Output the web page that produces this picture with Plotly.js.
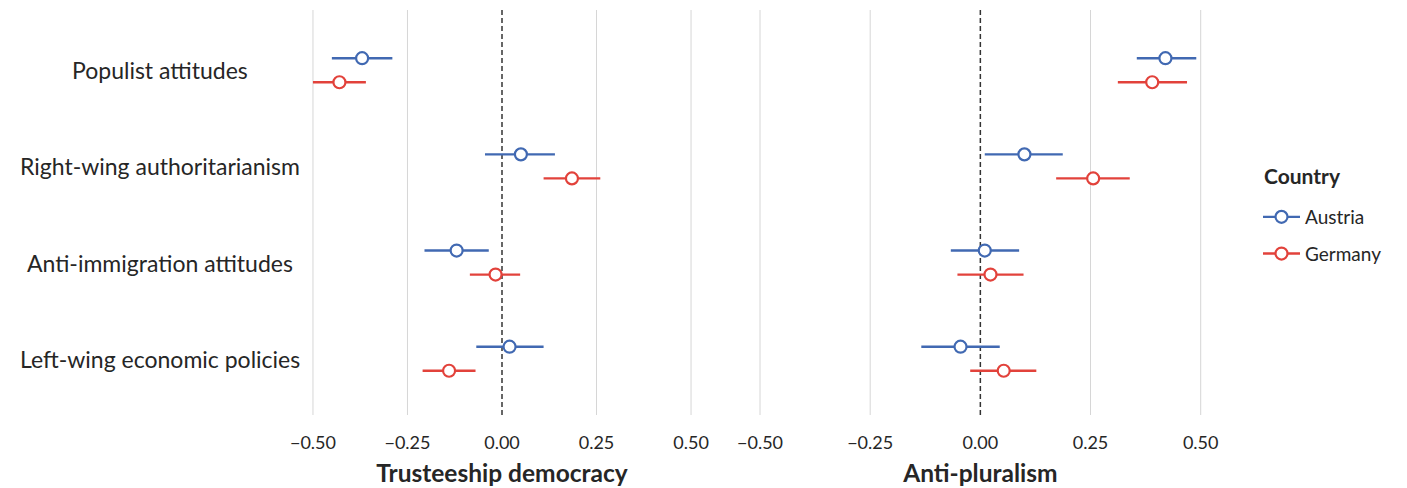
<!DOCTYPE html>
<html>
<head>
<meta charset="utf-8">
<script src="https://cdn.plot.ly/plotly-3.0.1.min.js"></script>
<style>html,body{margin:0;padding:0;background:#fff;}#chart{width:1407px;height:488px;}</style>
</head>
<body>
<div id="chart"></div>
<script>
// ---- data ----
var categories = ['Populist attitudes', 'Right-wing authoritarianism', 'Anti-immigration attitudes', 'Left-wing economic policies'];
var countries = ['Austria', 'Germany'];
var legendTitle = 'Country';
var tickValues = [-0.5, -0.25, 0, 0.25, 0.5];
var tickLabels = ['\u22120.50', '\u22120.25', '0.00', '0.25', '0.50'];

// Trusteeship democracy
var trustAustria   = [-0.37, 0.05, -0.12, 0.02];
var trustAustriaLo = [-0.45, -0.045, -0.205, -0.068];
var trustAustriaHi = [-0.29, 0.14, -0.035, 0.11];
var trustGermany   = [-0.43, 0.185, -0.017, -0.14];
var trustGermanyLo = [-0.50, 0.11, -0.085, -0.21];
var trustGermanyHi = [-0.36, 0.26, 0.048, -0.07];

// Anti-pluralism
var antiAustria   = [0.42, 0.10, 0.01, -0.045];
var antiAustriaLo = [0.355, 0.01, -0.067, -0.134];
var antiAustriaHi = [0.49, 0.187, 0.088, 0.044];
var antiGermany   = [0.39, 0.256, 0.023, 0.053];
var antiGermanyLo = [0.312, 0.172, -0.052, -0.023];
var antiGermanyHi = [0.469, 0.339, 0.098, 0.127];

// ---- styling ----
var colors = {Austria: '#4169b2', Germany: '#e2423b'};
var dodge = {Austria: -0.125, Germany: 0.125};
var FONT = 'Lato, "Open Sans", sans-serif';
var TXT = '#262626';

function ypos(country) {
  return categories.map(function (c, i) { return i + dodge[country]; });
}
function trace(country, est, lo, hi, xa) {
  return {
    type: 'scatter', mode: 'markers', xaxis: xa, yaxis: 'y',
    x: est, y: ypos(country), text: categories,
    showlegend: false, hoverinfo: 'x+text',
    marker: {symbol: 'circle', size: 12, color: '#ffffff', line: {color: colors[country], width: 2.2}},
    error_x: {
      type: 'data', symmetric: false,
      array: est.map(function (v, i) { return hi[i] - v; }),
      arrayminus: est.map(function (v, i) { return v - lo[i]; }),
      color: colors[country], thickness: 2.4, width: 0
    }
  };
}
function legendTrace(country) {
  return {
    type: 'scatter', mode: 'lines+markers', x: [null], y: [null],
    name: country, legendgroup: country, showlegend: true,
    line: {color: colors[country], width: 2.4},
    marker: {symbol: 'circle', size: 12, color: '#ffffff', line: {color: colors[country], width: 2.2}}
  };
}

var data = [
  trace('Austria', trustAustria, trustAustriaLo, trustAustriaHi, 'x'),
  trace('Germany', trustGermany, trustGermanyLo, trustGermanyHi, 'x'),
  trace('Austria', antiAustria, antiAustriaLo, antiAustriaHi, 'x2'),
  trace('Germany', antiGermany, antiGermanyLo, antiGermanyHi, 'x2'),
  legendTrace(countries[0]),
  legendTrace(countries[1])
];

function xaxisDef(domain, title) {
  return {
    domain: domain, range: [-0.52, 0.52], anchor: 'y',
    tickvals: tickValues, ticktext: tickLabels,
    showgrid: false,
    zeroline: false, showline: false, ticks: '',
    ticklabelstandoff: 15,
    tickfont: {family: FONT, size: 18, color: TXT},
    title: {text: title, font: {family: FONT, size: 24.5, color: TXT, weight: 'bold'}, standoff: 12},
    fixedrange: true
  };
}

var annotations = categories.map(function (c, i) {
  return {
    text: c, xref: 'paper', yref: 'y', x: 160 / 1407, y: i,
    xanchor: 'center', yanchor: 'middle', showarrow: false,
    font: {family: FONT, size: 23, color: TXT}
  };
});
annotations.push({
  text: legendTitle, xref: 'paper', yref: 'paper', x: 1262 / 1407, y: (488 - 176) / 488,
  xanchor: 'left', yanchor: 'middle', showarrow: false,
  font: {family: FONT, size: 21, color: TXT, weight: 'bold'}
});

// vertical gridlines at the tick values (solid) and a dashed reference line at zero
var shapes = [];
['x', 'x2'].forEach(function (xa) {
  tickValues.forEach(function (v) {
    shapes.push({
      type: 'line', xref: xa, yref: 'y domain', x0: v, x1: v, y0: 0, y1: 1,
      line: v === 0 ? {color: '#333333', width: 1.5, dash: '5px,3px'} : {color: '#d6d6d6', width: 1},
      layer: 'below'
    });
  });
});

var layout = {
  width: 1407, height: 488,
  margin: {l: 0, r: 0, t: 0, b: 0},
  paper_bgcolor: '#ffffff', plot_bgcolor: 'rgba(0,0,0,0)',
  font: {family: FONT, color: TXT},
  xaxis: xaxisDef([305.4 / 1407, 698.6 / 1407], 'Trusteeship democracy'),
  xaxis2: xaxisDef([751.2 / 1407, 1209.5 / 1407], 'Anti-pluralism'),
  yaxis: {
    domain: [(488 - 415) / 488, (488 - 10) / 488],
    range: [3.585, -0.626],
    showgrid: false, zeroline: false, showline: false,
    showticklabels: false, ticks: '', fixedrange: true
  },
  annotations: annotations,
  shapes: shapes,
  showlegend: true,
  legend: {
    x: 1258 / 1407, xanchor: 'left', y: (488 - 198) / 488, yanchor: 'top',
    font: {family: FONT, size: 19, color: TXT},
    traceorder: 'grouped', tracegroupgap: 9,
    bgcolor: 'rgba(0,0,0,0)', itemwidth: 37
  }
};

Plotly.newPlot('chart', data, layout, {displayModeBar: false, staticPlot: true});
</script>
</body>
</html>
